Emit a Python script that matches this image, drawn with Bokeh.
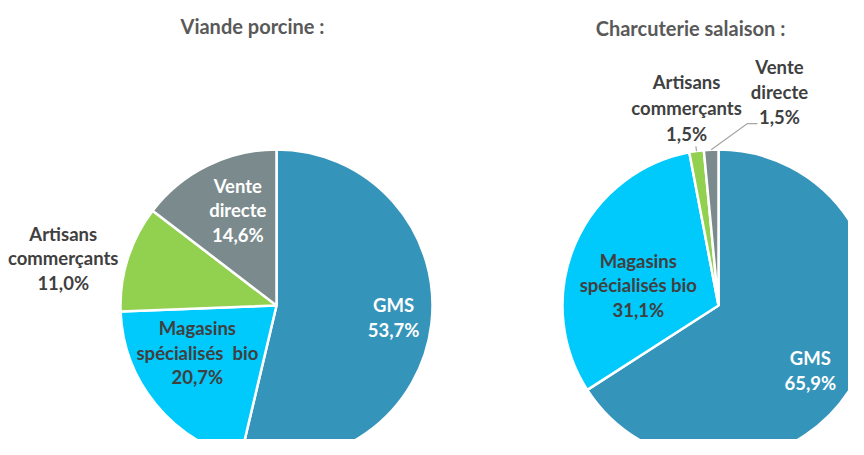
import math
from bokeh.plotting import figure
from bokeh.models import Range1d
from bokeh.core.properties import value
from bokeh.embed import file_html
from bokeh.resources import INLINE

# ---- data ----
categories = ["GMS", "Magasins spécialisés bio", "Artisans commerçants", "Vente directe"]
titles = ["Viande porcine :", "Charcuterie salaison :"]
viande_values = [53.7, 20.7, 11.0, 14.6]
charcuterie_values = [65.9, 31.1, 1.5, 1.5]
viande_labels = [["GMS", "53,7%"], ["Magasins", "spécialisés\u00a0\u00a0bio", "20,7%"],
                 ["Artisans", "commerçants", "11,0%"], ["Vente", "directe", "14,6%"]]
charcuterie_labels = [["GMS", "65,9%"], ["Magasins", "spécialisés bio", "31,1%"],
                      ["Artisans", "commerçants", "1,5%"], ["Vente", "directe", "1,5%"]]

# ---- styles / layout ----
colors = ["#3594BA", "#00C9FC", "#92D050", "#7B8B8D"]
H = 455  # screen height, used to convert top-down pixel layout to data y
FONT = "Lato"

p = figure(width=848, height=439, x_range=Range1d(0, 848), y_range=Range1d(16, 455),
           output_backend="svg", toolbar_location=None, min_border=0)
p.axis.visible = False
p.grid.visible = False
p.outline_line_color = None
p.background_fill_color = "white"
p.border_fill_color = "white"

R = 156
pies = [
    dict(cx=276, cy=H - 305, vals=viande_values, labels=viande_labels, title=titles[0], tx=252, ty=H - 25,
         rf=[0.754, 0.59, 1.40, 0.66], shift=[-0.8, 8.7, -5.2, 4.2],
         tcol=["white", "#404040", "#404040", "white"], lh=[24.5, 24.5, 24.5, 24.5]),
    dict(cx=718, cy=H - 305, vals=charcuterie_values, labels=charcuterie_labels, title=titles[1], tx=690, ty=H - 27,
         rf=[0.72, 0.53, 1.28, 1.426], shift=[6.6, -9.2, -1.1, 18.6],
         tcol=["white", "#404040", "#404040", "#404040"], lh=[24.5, 24.5, 26, 25]),
]

for k, pie in enumerate(pies):
    total = sum(pie["vals"])
    cum = 0.0
    starts, ends, mids = [], [], []
    for v in pie["vals"]:
        f0 = cum / total
        cum += v
        f1 = cum / total
        starts.append(math.pi / 2 - 2 * math.pi * f0)
        ends.append(math.pi / 2 - 2 * math.pi * f1)
        mids.append(360 * (f0 + f1) / 2)
    p.wedge(x=[pie["cx"]] * 4, y=[pie["cy"]] * 4, radius=R,
            start_angle=starts, end_angle=ends, direction="clock",
            fill_color=colors, line_color="white", line_width=2.5)

    # title
    p.text(x=[pie["tx"]], y=[pie["ty"]], text=[pie["title"]], text_font=value(FONT),
           text_font_style="bold", text_font_size="20px", text_color="#595959",
           text_align="center", text_baseline="middle")

    # labels
    for i, lines in enumerate(pie["labels"]):
        th = math.radians(mids[i] + pie["shift"][i])
        lx = pie["cx"] + pie["rf"][i] * R * math.sin(th)
        ly = pie["cy"] + pie["rf"][i] * R * math.cos(th)
        n = len(lines)
        xs = [lx] * n
        ys = [ly - (j - (n - 1) / 2) * pie["lh"][i] for j in range(n)]
        p.text(x=xs, y=ys, text=lines, text_font=value(FONT), text_font_style="bold",
               text_font_size="18.5px", text_color=pie["tcol"][i],
               text_align="center", text_baseline="middle")

    # leader lines for small slices of second pie
    if k == 1:
        # Artisans: short tick
        th = math.radians(mids[2])
        p.line(x=[pie["cx"] + R * math.sin(th), pie["cx"] + R * 1.03 * math.sin(th)],
               y=[pie["cy"] + R * math.cos(th), pie["cy"] + R * 1.03 * math.cos(th)],
               line_color="#A6A6A6", line_width=1.2)
        # Vente directe: elbow leader
        th = math.radians(mids[3])
        sx = pie["cx"] + R * math.sin(th)
        sy = pie["cy"] + R * math.cos(th)
        thl = math.radians(mids[3] + pie["shift"][3])
        lx = pie["cx"] + pie["rf"][3] * R * math.sin(thl)
        ly = pie["cy"] + pie["rf"][3] * R * math.cos(thl)
        ex, ey = lx - 22, ly - 32
        p.line(x=[sx, ex - 10, ex], y=[sy, ey, ey], line_color="#A6A6A6", line_width=1.2)

open("out.html", "w").write(file_html(p, INLINE))
